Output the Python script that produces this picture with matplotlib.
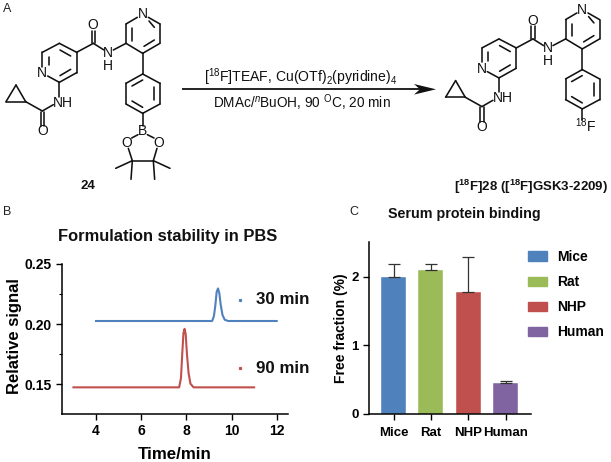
import matplotlib
matplotlib.use("Agg")
import matplotlib.pyplot as plt
from matplotlib.collections import LineCollection
from matplotlib.patches import Patch, Polygon

plt.rcParams['font.family'] = ['Liberation Sans', 'DejaVu Sans']
plt.rcParams['mathtext.fontset'] = 'custom'
plt.rcParams['mathtext.rm'] = 'Liberation Sans'
plt.rcParams['mathtext.bf'] = 'Liberation Sans:bold'
plt.rcParams['mathtext.it'] = 'Liberation Sans:italic'
plt.rcParams['mathtext.default'] = 'regular'

# ---- dados do painel B
time_30 = [4, 9.14, 9.22, 9.28, 9.34, 9.40, 9.46, 9.52, 9.60, 9.70, 9.85, 12]
signal_30 = [0.2025, 0.2025, 0.2065, 0.2150, 0.2265, 0.2295, 0.2255, 0.2160, 0.2075, 0.2035, 0.2025, 0.2025]
time_90 = [3, 7.68, 7.76, 7.82, 7.87, 7.92, 7.97, 8.03, 8.10, 8.18, 8.32, 11]
signal_90 = [0.1475, 0.1475, 0.1550, 0.1760, 0.1925, 0.1960, 0.1915, 0.1740, 0.1590, 0.1505, 0.1475, 0.1475]
xticks_b = [4, 6, 8, 10, 12]
yticks_b = [0.15, 0.20, 0.25]
yminor_b = [0.175, 0.225]

# ---- dados do painel C
species = ['Mice', 'Rat', 'NHP', 'Human']
free_fraction = [2.0, 2.1, 1.78, 0.45]
free_err = [0.19, 0.08, 0.51, 0.03]
colors_c = ['#4F81BD', '#9BBB59', '#C0504D', '#8064A2']
yticks_c = [0, 1, 2]

# ---- estrutura: ligacoes em coordenadas do zoom 3x da imagem
shared_bonds = [
    # ciclopropano + carbonila
    ((48, 255), (18, 305)), ((18, 305), (77, 305)), ((77, 305), (48, 255)),
    ((77, 305), (127, 333)), ((122, 335), (122, 378)), ((133, 335), (133, 378)),
    ((127, 333), (160, 314)), ((178, 290), (178, 247)),
    # piridina 1
    ((127, 200), (127, 157)), ((146, 196), (146, 170)), ((127, 157), (178, 130)),
    ((178, 130), (230, 157)), ((180, 150), (212, 168)), ((230, 157), (230, 218)),
    ((230, 218), (178, 247)), ((212, 208), (180, 227)), ((178, 247), (143, 228)),
    # amida central
    ((230, 157), (280, 130)), ((275, 130), (275, 92)), ((286, 130), (286, 92)),
    ((280, 130), (312, 150)), ((340, 150), (378, 130)),
    # piridina 2
    ((378, 130), (378, 72)), ((396, 122), (396, 84)), ((378, 72), (412, 52)),
    ((445, 52), (480, 72)), ((447, 63), (463, 82)), ((480, 72), (480, 130)),
    ((480, 130), (428, 160)), ((463, 120), (432, 139)), ((428, 160), (378, 130)),
    ((428, 160), (428, 222)),
    # fenil
    ((428, 222), (480, 250)), ((480, 250), (480, 312)), ((480, 312), (428, 340)),
    ((428, 340), (378, 312)), ((378, 312), (378, 250)), ((378, 250), (428, 222)),
    ((396, 258), (428, 240)), ((462, 262), (462, 300)), ((396, 303), (428, 322)),
]
boron_bonds = [
    ((428, 340), (428, 378)), ((414, 404), (395, 414)), ((442, 404), (462, 414)),
    ((385, 445), (397, 482)), ((471, 445), (460, 482)), ((397, 482), (460, 482)),
    ((397, 482), (347, 505)), ((397, 482), (393, 538)),
    ((460, 482), (510, 505)), ((460, 482), (464, 538)),
]
fluor_bonds = [((428, 340), (428, 372))]
shared_labels = [('N', 127, 219), ('NH', 190, 308), ('O', 127, 393), ('O', 278, 75),
                 ('N\nH', 325, 178), ('N', 428, 43)]
boron_labels = [('B', 428, 393), ('O', 380, 428), ('O', 476, 428)]

fig = plt.figure(figsize=(6.11, 4.62), dpi=100)

# eixo em pixels para o esquema quimico e os rotulos soltos
ov = fig.add_axes([0, 0, 1, 1], zorder=5)
ov.set_xlim(0, 611)
ov.set_ylim(462, 0)
ov.axis('off')


def draw_mol(bonds, labels, dx=0, dy=0):
    segs = [[(a[0] / 3 + dx, a[1] / 3 + dy), (b[0] / 3 + dx, b[1] / 3 + dy)] for a, b in bonds]
    ov.add_collection(LineCollection(segs, colors='#111111', linewidths=1.15, capstyle='round'))
    for s, x, y in labels:
        ov.text(x / 3 + dx, y / 3 + dy, s, fontsize=10, ha='center', va='center', color='#111111', linespacing=0.9)


draw_mol(shared_bonds + boron_bonds, shared_labels + boron_labels)
draw_mol(shared_bonds + fluor_bonds, shared_labels, dx=439.6, dy=-4.4)
ov.text(585.5, 126, '$^{18}$F', fontsize=10, ha='center', va='center', color='#111111')

# seta da reacao
ov.plot([182, 425], [89.3, 89.3], color='#111111', lw=1.3, solid_capstyle='butt')
ov.add_patch(Polygon([(436, 89.3), (414, 84), (420, 89.3), (414, 94.6)], closed=True, color='#111111', lw=0))
ov.text(301, 77, '[$^{18}$F]TEAF, Cu(OTf)$_2$(pyridine)$_4$', fontsize=10.1, ha='center', va='center', color='#111111')
ov.text(302, 103, 'DMAc/$^{\\mathit{n}}$BuOH, 90 $^{O}$C, 20 min', fontsize=9.8, ha='center', va='center', color='#111111')

ov.text(88, 186, '24', fontsize=9.5, fontweight='bold', ha='center', va='center', color='#111111')
ov.text(531, 187, '[$^{\\mathbf{18}}$F]28 ([$^{\\mathbf{18}}$F]GSK3-2209)', fontsize=9.5, fontweight='bold',
        ha='center', va='center', color='#111111')

ov.text(3, 9, 'A', fontsize=9, ha='left', va='center', color='#222222')
ov.text(3, 212, 'B', fontsize=9, ha='left', va='center', color='#222222')
ov.text(349, 212, 'C', fontsize=9, ha='left', va='center', color='#222222')
ov.text(168, 237, 'Formulation stability in PBS', fontsize=11.9, fontweight='bold', ha='center', va='center', color='#111111')
ov.text(464, 214, 'Serum protein binding', fontsize=10.3, fontweight='bold', ha='center', va='center', color='#111111')

# legenda do painel B (pontinhos + texto)
ov.plot([240], [299.7], 's', ms=1.3, color='#4F81BD')
ov.plot([240], [368.3], 's', ms=1.3, color='#C0504D')
ov.text(256.5, 299.7, '30 min', fontsize=12.2, fontweight='bold', ha='left', va='center', color='#111111')
ov.text(256.5, 368.3, '90 min', fontsize=12.2, fontweight='bold', ha='left', va='center', color='#111111')

#================================ Painel B ================================#
W, H = 611, 462
ax_b = fig.add_axes([61.7 / W, (H - 414) / H, (288 - 61.7) / W, (414 - 263.7) / H])
ax_b.plot(time_30, signal_30, color='#4F81BD', lw=1.5)
ax_b.plot(time_90, signal_90, color='#C0504D', lw=1.5)
ax_b.set_xlim(2.48, 12.5)
ax_b.set_ylim(0.1254, 0.25)
ax_b.set_xticks(xticks_b)
ax_b.set_yticks(yticks_b)
ax_b.set_yticklabels(['0.15', '0.20', '0.25'])
ax_b.set_yticks(yminor_b, minor=True)
ax_b.set_xlabel('Time/min', fontsize=12.2, fontweight='bold', labelpad=6)
ax_b.set_ylabel('Relative signal', fontsize=12, fontweight='bold', labelpad=1.5, y=0.52)

#================================ Painel C ================================#
ax_c = fig.add_axes([369 / W, (H - 414) / H, (531 - 369) / W, (414 - 242.3) / H])
positions = [0, 1, 2, 3]
ax_c.bar(positions, free_fraction, width=0.67, color=colors_c, edgecolor='#FFFFFF', linewidth=0.3)
ax_c.errorbar(positions, free_fraction, yerr=[[0] * 4, free_err], fmt='none',
              ecolor='#333333', elinewidth=0.9, capsize=4.3, capthick=0.9)
ax_c.set_xlim(-0.66, 3.68)
ax_c.set_ylim(0, 2.5)
ax_c.set_xticks(positions)
ax_c.set_xticklabels(species)
ax_c.set_yticks(yticks_c)
ax_c.set_ylabel('Free fraction (%)', fontsize=10, fontweight='bold', labelpad=2.5)
handles = [Patch(color=c, label=s) for c, s in zip(colors_c, species)]
leg = ax_c.legend(handles=handles, frameon=False, loc='upper left', bbox_to_anchor=(528 / W, (H - 250) / H),
                  bbox_transform=fig.transFigure, prop={'size': 10, 'weight': 'bold'},
                  handlelength=1.37, handleheight=0.65, handletextpad=0.72, labelspacing=0.8, borderaxespad=0, borderpad=0)

for ax in (ax_b, ax_c):
    ax.spines['top'].set_visible(False)
    ax.spines['right'].set_visible(False)
    ax.spines['left'].set_linewidth(1.1)
    ax.spines['bottom'].set_linewidth(1.1)
    ax.tick_params(axis='both', which='major', length=4.5, width=1.0, labelsize=10, pad=3)
    ax.tick_params(axis='y', which='minor', length=2.5, width=0.8)
    for lab in ax.get_xticklabels() + ax.get_yticklabels():
        lab.set_fontweight('bold')
ax_c.tick_params(axis='x', which='major', labelsize=9.5, pad=5)
ax_c.tick_params(axis='y', which='major', labelsize=9.5)

fig.savefig('out.png', dpi=100)
